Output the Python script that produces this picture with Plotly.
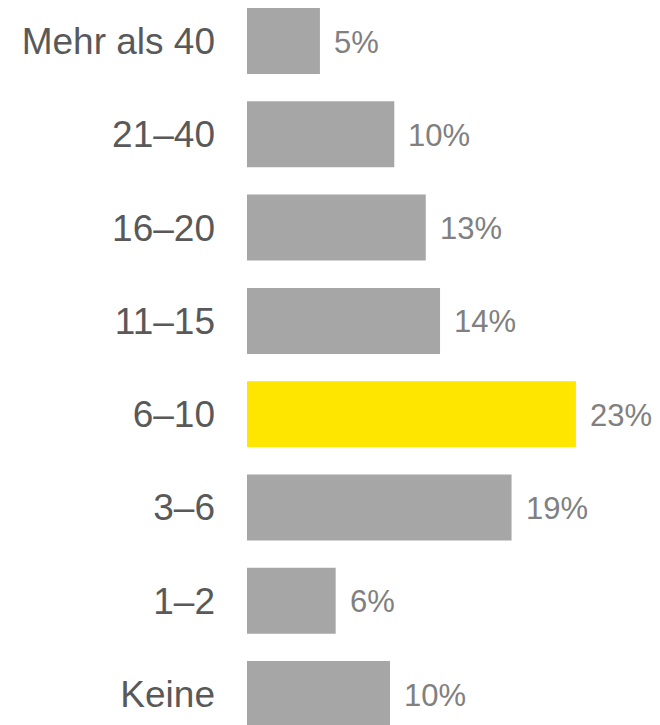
import plotly.graph_objects as go

categories = ["Mehr als 40", "21–40", "16–20", "11–15", "6–10", "3–6", "1–2", "Keine"]
values = [5.1, 10.3, 12.5, 13.5, 23.0, 18.5, 6.2, 10.0]
value_labels = ["5%", "10%", "13%", "14%", "23%", "19%", "6%", "10%"]
highlight = "6–10"

GREY = "#a6a6a6"
YELLOW = "#ffe600"
colors = [YELLOW if c == highlight else GREY for c in categories]

# page body adds an 8px offset; size the figure to fit the 660x725 window
W, H = 652, 717
L = 239
px_per_unit = 14.3
pitch = 93.3
top_center = 33.0

fig = go.Figure()
fig.add_trace(go.Bar(
    x=values, y=categories, orientation="h",
    marker=dict(color=colors, line=dict(width=0)),
    width=66 / pitch,
    hoverinfo="skip",
))

for v, c, t in zip(values, categories, value_labels):
    fig.add_annotation(
        x=v, y=c, text=t, showarrow=False, xanchor="left", yanchor="middle",
        xshift=12, yshift=-1,
        font=dict(family="Liberation Sans, Arial, sans-serif", size=31, color="#808080"),
    )

y_top = -top_center / pitch
y_bottom = (H - top_center) / pitch

fig.update_layout(
    width=W, height=H,
    margin=dict(l=L, r=0, t=0, b=0, pad=0),
    paper_bgcolor="white", plot_bgcolor="white",
    showlegend=False,
    xaxis=dict(range=[0, (W - L) / px_per_unit], visible=False, fixedrange=True),
    yaxis=dict(
        type="category", categoryorder="array", categoryarray=categories,
        range=[y_bottom, y_top],
        showgrid=False, zeroline=False, showline=False, ticks="",
        ticklabelstandoff=31,
        tickfont=dict(family="Liberation Sans, Arial, sans-serif", size=37, color="#595959"),
        automargin=False,
    ),
)

fig.write_html("out.html")
